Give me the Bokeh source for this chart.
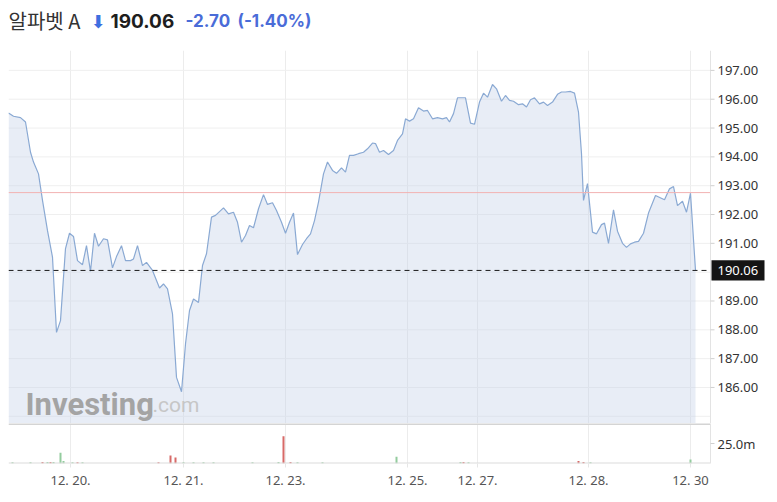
from bokeh.plotting import figure
from bokeh.models import Range1d, FixedTicker, Label
from bokeh.layouts import column
from bokeh.embed import file_html
from bokeh.resources import INLINE
from bokeh.core.properties import value

# ---------------- data ----------------
title_name = "알파벳 A"
last_price = 190.06
prev_close = 192.76
change_txt = "-2.70"
change_pct_txt = "(-1.40%)"

t = [0, 5, 12, 17, 22, 25, 30, 34, 39, 44, 48, 52, 57, 61, 65, 69, 74, 78, 82, 86,
     90, 95, 99, 104, 108, 113, 117, 122, 125, 129, 134, 138, 144, 151, 155, 159, 164, 168, 173, 177,
     181, 185, 190, 194, 198, 203, 207, 215, 220, 225, 229, 233, 237, 241, 245, 250, 255, 259, 264, 268,
     273, 277, 281, 285, 289, 294, 298, 302, 306, 310, 315, 319, 324, 328, 333, 337, 341, 345, 350, 355,
     359, 364, 367, 371, 375, 380, 385, 389, 394, 397, 401, 405, 410, 415, 419, 424, 429, 434, 438, 441,
     445, 449, 457, 462, 466, 471, 475, 479, 484, 488, 493, 497, 501, 505, 510, 514, 518, 522, 526, 531,
     535, 539, 544, 549, 553, 557, 562, 566, 570, 573, 575, 579, 584, 588, 593, 596, 600, 605, 609, 614,
     618, 622, 626, 630, 635, 640, 647, 656, 661, 665, 669, 674, 678, 682, 687]
price = [195.52, 195.41, 195.36, 195.21, 194.16, 193.82, 193.41, 192.49, 191.44, 190.52,
         187.91, 188.32, 190.82, 191.35, 191.24, 190.40, 190.26, 190.92, 190.03, 191.35,
         190.90, 191.16, 191.12, 190.15, 190.54, 190.92, 190.40, 190.40, 190.46, 190.92,
         190.23, 190.34, 190.06, 189.45, 189.59, 189.42, 188.55, 186.35, 185.85, 187.51,
         188.67, 189.07, 188.95, 190.23, 190.64, 191.91, 191.97, 192.23, 192.02, 192.08,
         191.73, 191.04, 191.27, 191.62, 191.54, 192.20, 192.69, 192.35, 192.41, 192.14,
         191.73, 191.35, 191.73, 192.05, 190.61, 190.96, 191.16, 191.33, 191.79, 192.43,
         193.41, 193.82, 193.53, 193.43, 193.62, 193.47, 194.05, 194.05, 194.11, 194.16,
         194.28, 194.48, 194.46, 194.16, 194.22, 194.08, 194.22, 194.57, 194.80, 195.32,
         195.24, 195.32, 195.70, 195.59, 195.61, 195.32, 195.36, 195.32, 195.36, 195.21,
         195.50, 196.05, 196.05, 195.17, 195.13, 195.90, 196.21, 196.07, 196.51, 196.36,
         195.93, 196.13, 195.96, 195.93, 195.81, 195.84, 195.73, 195.98, 196.05, 195.84,
         195.90, 195.78, 195.90, 196.17, 196.25, 196.25, 196.27, 196.21, 195.55, 194.11,
         192.49, 193.07, 191.39, 191.33, 191.65, 191.70, 191.00, 192.16, 191.42, 191.00,
         190.86, 190.98, 191.04, 191.07, 191.35, 192.05, 192.66, 192.51, 192.89, 192.97,
         192.31, 192.46, 192.08, 192.74, 190.06]

vol_t = [4, 22, 34, 39, 42, 45, 52, 55, 64, 69, 74, 150, 162, 167, 175, 185, 195, 205,
         244, 270, 275, 282, 289, 314, 388, 452, 455, 460, 570, 575, 582, 682]
vol_m = [1.5, 1.5, 2.0, 2.0, 2.0, 2.0, 13.5, 3.0, 1.5, 1.5, 1.5, 1.5, 10.0, 7.5, 1.5, 1.5, 1.5, 1.5,
         1.5, 2.0, 34.0, 2.0, 1.5, 1.5, 8.5, 2.0, 2.0, 1.5, 3.0, 2.0, 1.5, 5.0]
vol_up = [1, 1, 0, 1, 0, 1, 1, 1, 1, 0, 1, 0, 0, 0, 1, 1, 1, 1,
          1, 1, 0, 0, 1, 1, 1, 1, 0, 1, 0, 0, 1, 1]

date_ticks = [62, 175, 277, 399, 469, 580, 682]
date_labels = ["12. 20.", "12. 21.", "12. 23.", "12. 25.", "12. 27.", "12. 28.", "12. 30"]
price_ticks = [186, 187, 188, 189, 191, 192, 193, 194, 195, 196, 197]
grid_prices = [185, 186, 187, 188, 189, 190, 191, 192, 193, 194, 195, 196, 197]
vol_ticks = [25]
vol_tick_labels = ["25.0m"]

# ---------------- styling ----------------
W = 768
FONT = "Noto Sans"
TFONT = "Inter"
PLOT_END = 702          # right edge of the plotting area (data units)
X_END = 760             # includes price-scale strip
Y_LO, Y_HI = 184.75, 197.69
V_HI = 50
LBL_X = PLOT_END + 7


def bare(fig):
    fig.outline_line_color = None
    fig.border_fill_color = "white"
    fig.background_fill_color = "white"


# ---------------- header ----------------
ph = figure(width=W, height=50, output_backend="svg", toolbar_location=None,
            x_range=Range1d(0, X_END), y_range=Range1d(50, 0),
            x_axis_location=None, y_axis_location=None,
            min_border_left=8, min_border_right=0, min_border_top=0, min_border_bottom=0)
bare(ph)
ph.xgrid.grid_line_color = None
ph.ygrid.grid_line_color = None
HY = 20
ph.text(x=[0], y=[HY], text=[title_name], text_font=value("Noto Sans CJK KR"),
        text_font_size="20px", text_color="#333333", text_baseline="middle")
ph.text(x=[82], y=[HY + 1], text=["⬇"], text_font=value("DejaVu Sans"),
        text_font_size="18px", text_color="#3e6fe0", text_baseline="middle")
ph.text(x=[102], y=[HY], text=[f"{last_price:.2f}"], text_font=value(TFONT), text_font_style="bold",
        text_font_size="19px", text_color="#1e1e1e", text_baseline="middle")
ph.text(x=[177], y=[HY], text=[change_txt], text_font=value(TFONT), text_font_style="bold",
        text_font_size="17px", text_color="#4a6cd8", text_baseline="middle")
ph.text(x=[229], y=[HY], text=[change_pct_txt], text_font=value(TFONT), text_font_style="bold",
        text_font_size="17px", text_color="#4a6cd8", text_baseline="middle")

# ---------------- price panel ----------------
p1 = figure(width=W, height=373, output_backend="svg", toolbar_location=None,
            x_range=Range1d(0, X_END), y_range=Range1d(Y_LO, Y_HI),
            y_axis_location=None, x_axis_location=None,
            min_border_left=8, min_border_right=0, min_border_top=0, min_border_bottom=0)
bare(p1)
p1.ygrid.grid_line_color = None
p1.xgrid.ticker = FixedTicker(ticks=date_ticks)
p1.xgrid.grid_line_color = "#ececec"

# horizontal grid (only over plotting area)
p1.segment(x0=0, x1=PLOT_END, y0=grid_prices, y1=grid_prices, line_color="#efefef", line_width=1)

p1.varea(x=t, y1=Y_LO - 1, y2=price, fill_color="#c5d3e8", fill_alpha=0.4)
p1.line(t, price, line_color="#8aa9d3", line_width=1.2)

# previous close and last price lines
p1.segment(x0=0, x1=PLOT_END, y0=prev_close, y1=prev_close, line_color="#f2b2b2", line_width=1)
p1.segment(x0=0, x1=PLOT_END, y0=last_price, y1=last_price, line_color="#1a1a1a",
           line_width=1, line_dash="5 4")

# price scale strip on the right
p1.segment(x0=PLOT_END, x1=PLOT_END, y0=Y_LO, y1=Y_HI, line_color="#e3e3e3", line_width=1)
p1.segment(x0=PLOT_END, x1=PLOT_END + 4, y0=price_ticks, y1=price_ticks,
           line_color="#d0d0d0", line_width=1)
p1.text(x=LBL_X, y=price_ticks, text=[f"{v:.2f}" for v in price_ticks],
        text_font=value(FONT), text_font_size="13px", text_color="#333333",
        text_baseline="middle", text_align="left")

# last price box
p1.quad(left=PLOT_END + 1, right=PLOT_END + 54, bottom=last_price - 0.35, top=last_price + 0.35,
        fill_color="#151515", line_color=None)
p1.text(x=[LBL_X], y=[last_price], text=[f"{last_price:.2f}"],
        text_font=value(FONT), text_font_size="13px", text_color="white",
        text_baseline="middle", text_align="left")

# watermark
p1.add_layout(Label(x=17, y=185.40, text="Investing", text_font="Roboto", text_font_style="bold",
                    text_font_size="31px", text_color="#a4a4a4", text_baseline="alphabetic"))
p1.add_layout(Label(x=144, y=185.40, text=".com", text_font="Roboto",
                    text_font_size="21px", text_color="#c6c6c6", text_baseline="alphabetic"))

# ---------------- volume panel ----------------
p2 = figure(width=W, height=70, output_backend="svg", toolbar_location=None,
            x_range=Range1d(0, X_END), y_range=Range1d(0, V_HI),
            y_axis_location=None,
            min_border_left=8, min_border_right=0, min_border_top=0, min_border_bottom=30)
bare(p2)

p2.xgrid.ticker = FixedTicker(ticks=date_ticks)
p2.xgrid.grid_line_color = "#ececec"
p2.ygrid.grid_line_color = None

vcolors = ["#93cc9e" if u else "#d76a68" for u in vol_up]
p2.vbar(x=vol_t, top=vol_m, width=2, fill_color=vcolors, line_color=None)
p2.segment(x0=0, x1=PLOT_END, y0=V_HI, y1=V_HI, line_color="#d4d4d4", line_width=3)
p2.segment(x0=0, x1=PLOT_END, y0=0, y1=0, line_color="#dcdcdc", line_width=2)
p2.segment(x0=PLOT_END, x1=PLOT_END, y0=0, y1=V_HI, line_color="#e3e3e3", line_width=1)
p2.segment(x0=PLOT_END, x1=PLOT_END + 4, y0=vol_ticks, y1=vol_ticks,
           line_color="#d0d0d0", line_width=1)
p2.text(x=LBL_X, y=vol_ticks, text=vol_tick_labels,
        text_font=value(FONT), text_font_size="13px", text_color="#333333",
        text_baseline="middle", text_align="left")

xa = p2.xaxis[0]
xa.ticker = FixedTicker(ticks=date_ticks)
xa.major_label_overrides = dict(zip(date_ticks, date_labels))
xa.axis_line_color = None
xa.major_tick_line_color = "#e6e6e6"
xa.major_tick_out = 4
xa.major_tick_in = 0
xa.minor_tick_line_color = None
xa.major_label_standoff = 3
xa.major_label_text_font = FONT
xa.major_label_text_font_size = "13px"
xa.major_label_text_color = "#555555"

layout = column(ph, p1, p2, spacing=0)
open("out.html", "w").write(file_html(layout, INLINE))
